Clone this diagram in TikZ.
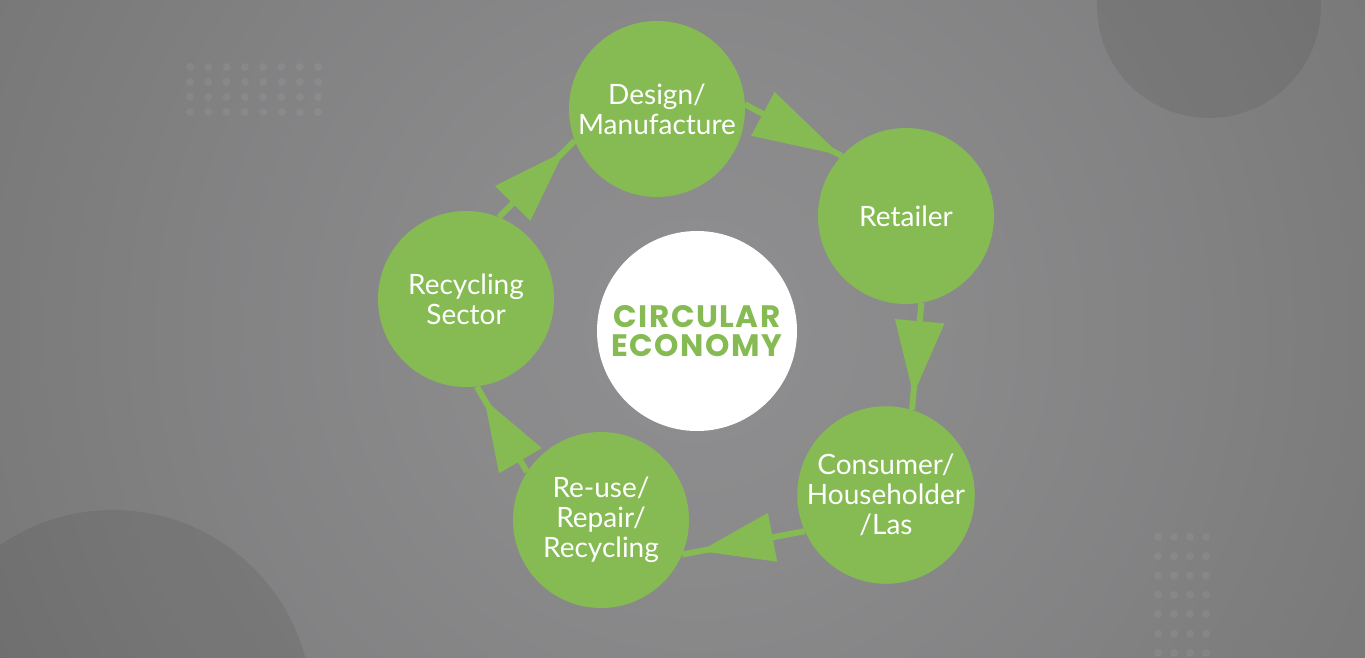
\documentclass[tikz,border=0pt]{standalone}
\usepackage{fontspec}
\setmainfont{Lato}
\newfontfamily\headfont{Poppins}[LetterSpace=5]
\usetikzlibrary{arrows.meta,decorations.markings}
\definecolor{cgreen}{HTML}{86BB53}
\pgfdeclareradialshading{bgshade}{\pgfpoint{0bp}{0bp}}{%
  rgb(0bp)=(0.56,0.56,0.57);
  rgb(8bp)=(0.54,0.54,0.545);
  rgb(16bp)=(0.51,0.51,0.515);
  rgb(25bp)=(0.47,0.47,0.47);
  rgb(32bp)=(0.44,0.44,0.44);
  rgb(38bp)=(0.41,0.41,0.41);
  rgb(43bp)=(0.39,0.39,0.39);
  rgb(50bp)=(0.35,0.35,0.35)}
\tikzset{
  stage/.style={circle, fill=cgreen, minimum size=176pt, inner sep=0pt,
    text=white, align=center, font=\fontsize{28}{30}\selectfont},
  hub/.style={circle, fill=white, minimum size=200pt, inner sep=0pt,
    text=cgreen, align=center, font=\headfont\bfseries\fontsize{31}{29}\selectfont},
  conn/.style={draw=cgreen, line width=6pt, postaction={decorate}},
  headat/.style 2 args={decoration={markings, mark=at position #1 with
    {\arrow{Triangle[length=#2, width=48pt, fill=cgreen]}}}},
  bgdot/.style={fill=white, fill opacity=0.06},
  bgdisc/.style={fill=black, fill opacity=0.07}
}
\begin{document}
\begin{tikzpicture}[x=1pt,y=-1pt]
\useasboundingbox (0,0) rectangle (1365,658);
\begin{scope}
  \clip (0,0) rectangle (1365,658);
  \shade[shading=bgshade] (697,330) circle (780);
  \fill[bgdisc] (1209,6) circle (112);
  \fill[bgdisc] (113,709) circle (199);
  \foreach \i in {0,...,7}{
    \foreach \j in {0,...,3}{
      \fill[bgdot] (190+18.3*\i, 67+15*\j) circle (4);
    }
  }
  \foreach \i in {0,...,3}{
    \foreach \j in {0,...,6}{
      \fill[bgdot] (1158+16*\i, 537+19.3*\j) circle (4);
    }
  }
\end{scope}

\node[hub] (H) at (697,331) {CIRCULAR\\ECONOMY};
\node[stage] (D) at (657,109) {Design/\\Manufacture};
\node[stage] (R) at (906,216) {Retailer};
\node[stage] (C) at (886,495) {Consumer/\\Householder\\/Las};
\node[stage] (U) at (601,520) {Re-use/\\Repair/\\Recycling};
\node[stage] (S) at (466,299) {Recycling\\Sector};

\draw[conn, headat={-1pt}{88pt}] (D.3) -- (R.137);
\draw[conn, headat={-15pt}{74pt}] (R.280) -- (C.73.5);
\draw[conn, headat={-18pt}{74pt}] (C.204) -- (U.337);
\draw[conn, headat={-15pt}{71pt}] (U.147) -- (S.277);
\draw[conn, headat={-15pt}{73pt}] (S.68) -- (D.201);
\end{tikzpicture}
\end{document}
